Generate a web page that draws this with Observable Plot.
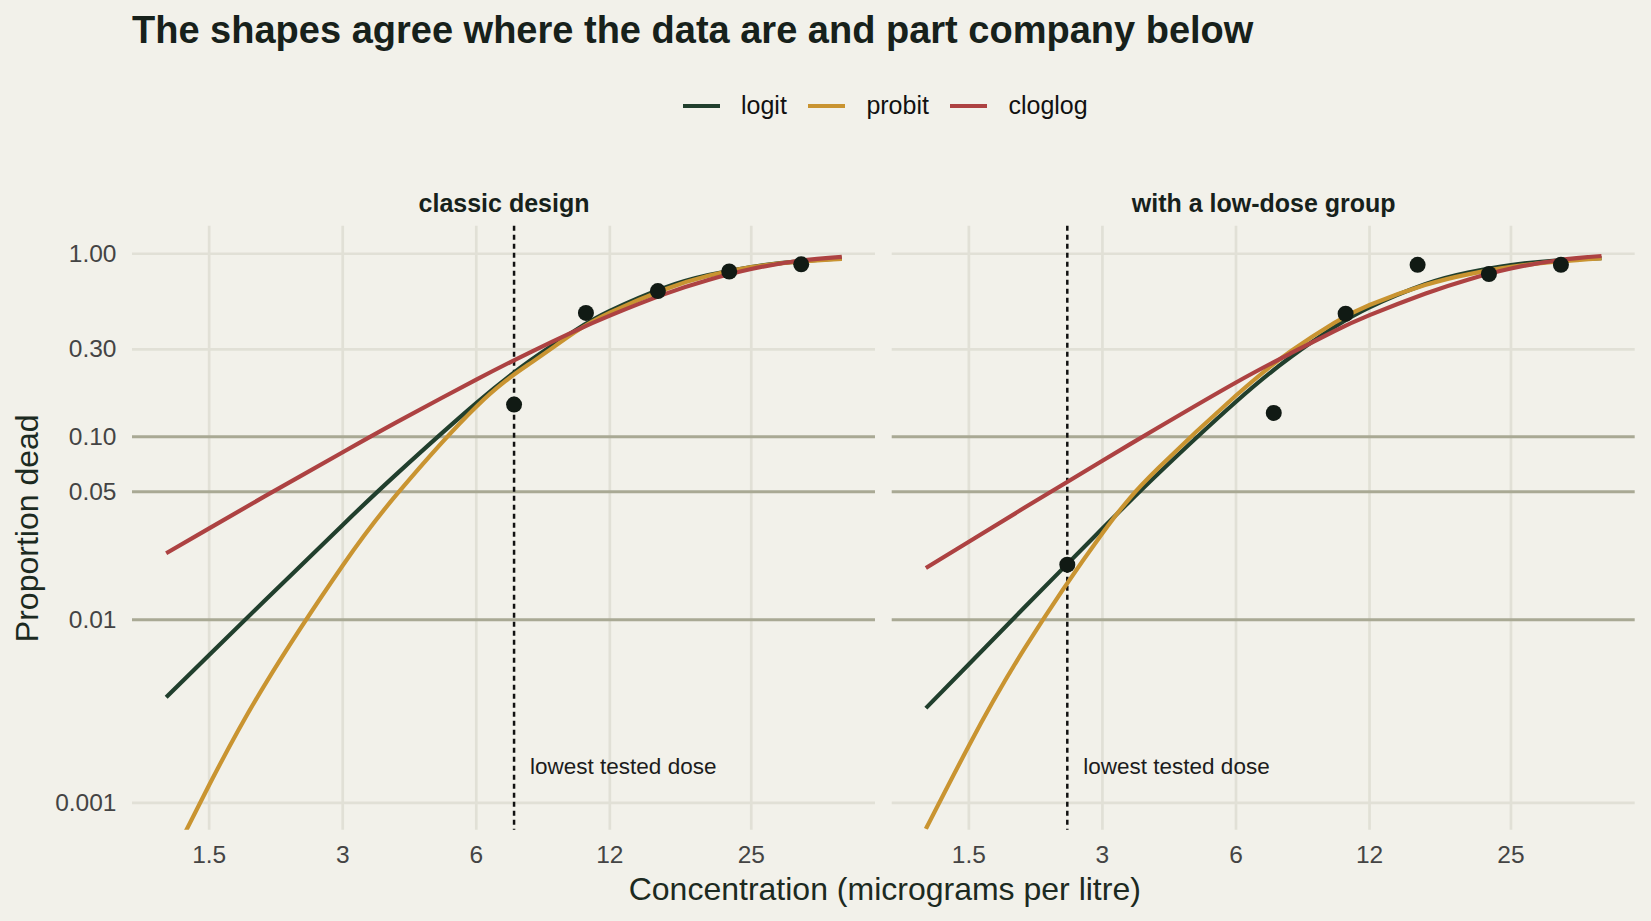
<!DOCTYPE html>
<html>
<head>
<meta charset="utf-8">
<script src="https://cdn.jsdelivr.net/npm/d3@7"></script>
<script src="https://cdn.jsdelivr.net/npm/@observablehq/plot@0.6"></script>
<style>
  html, body { margin: 0; padding: 0; background: #f2f1ea; }
  body { width: 1651px; height: 921px; position: relative; overflow: hidden;
         font-family: "Liberation Sans", Arial, Helvetica, sans-serif; }
  #title { position: absolute; left: 132px; top: 11px; font-size: 38px; line-height: 38px;
           font-weight: bold; color: #17211b; white-space: nowrap; }
  #legend { position: absolute; left: 683px; top: 93px; display: flex; align-items: center; }
  .leg-item { display: flex; align-items: center; margin-right: 21.5px; }
  .leg-line { width: 37px; height: 4px; margin-right: 21px; }
  .leg-text { font-size: 25px; line-height: 25px; color: #111; }
  #chart { position: absolute; left: 0; top: 150px; }
</style>
</head>
<body>
<div id="title">The shapes agree where the data are and part company below</div>
<div id="legend"></div>
<div id="chart"></div>
<script>
// ---- data ----
const panels = ["classic design", "with a low-dose group"];
const models = ["logit", "probit", "cloglog"];
const modelColors = ["#213f2d", "#c99431", "#ad4242"];

const concentrations = [1.2, 1.5, 2, 3, 4, 6, 8, 10, 12, 16, 20, 25, 32, 40];

const classicLogit   = [0.00377, 0.00643, 0.0127, 0.033, 0.0637, 0.1527, 0.2645, 0.38, 0.487, 0.654, 0.764, 0.847, 0.909, 0.942];
const classicProbit  = [0.00043, 0.00125, 0.0044, 0.0198, 0.0495, 0.146, 0.255, 0.372, 0.477, 0.64, 0.758, 0.845, 0.905, 0.938];
const classicCloglog = [0.0231, 0.0316, 0.0472, 0.0823, 0.1213, 0.2052, 0.2923, 0.378, 0.459, 0.6035, 0.719, 0.825, 0.916, 0.962];

const lowLogit   = [0.00329, 0.00572, 0.01167, 0.0315, 0.0626, 0.1554, 0.2743, 0.3975, 0.51, 0.681, 0.789, 0.867, 0.921, 0.947];
const lowProbit  = [0.00072, 0.00205, 0.00693, 0.0297, 0.067, 0.168, 0.295, 0.42, 0.525, 0.674, 0.772, 0.848, 0.908, 0.944];
const lowCloglog = [0.0192, 0.0267, 0.0409, 0.074, 0.112, 0.198, 0.287, 0.378, 0.462, 0.605, 0.722, 0.83, 0.922, 0.972];

const classicDoses = [7.3, 10.6, 15.4, 22.3, 32.4];
const classicDead  = [0.15, 0.475, 0.625, 0.8, 0.875];
const lowDoses = [2.5, 7.3, 10.6, 15.4, 22.3, 32.4];
const lowDead  = [0.02, 0.135, 0.47, 0.87, 0.775, 0.87];

const xTicks = [1.5, 3, 6, 12, 25];
const yTicks = [1, 0.3, 0.1, 0.05, 0.01, 0.001];
const yTickLabels = ["1.00", "0.30", "0.10", "0.05", "0.01", "0.001"];
const gridLevels = [1, 0.3, 0.001];
const refLevels = [0.1, 0.05, 0.01];

const xTitle = "Concentration (micrograms per litre)";
const yTitle = "Proportion dead";
const annotation = "lowest tested dose";

// ---- tables built from the arrays ----
const curveSets = [[classicLogit, classicProbit, classicCloglog], [lowLogit, lowProbit, lowCloglog]];
const curves = [];
panels.forEach((panel, i) => {
  models.forEach((model, j) => {
    concentrations.forEach((c, k) => curves.push({panel, model, c, p: curveSets[i][j][k]}));
  });
});
const points = [
  ...classicDoses.map((c, i) => ({panel: panels[0], c, p: classicDead[i]})),
  ...lowDoses.map((c, i) => ({panel: panels[1], c, p: lowDead[i]}))
];
const lowest = [
  {panel: panels[0], c: classicDoses[0]},
  {panel: panels[1], c: lowDoses[0]}
];
const yLabelMap = new Map(yTicks.map((t, i) => [t, yTickLabels[i]]));

// ---- legend ----
const legend = document.getElementById("legend");
models.forEach((m, i) => {
  const item = document.createElement("div");
  item.className = "leg-item";
  const line = document.createElement("div");
  line.className = "leg-line";
  line.style.background = modelColors[i];
  const txt = document.createElement("span");
  txt.className = "leg-text";
  txt.textContent = m;
  item.appendChild(line);
  item.appendChild(txt);
  legend.appendChild(item);
});

// ---- chart ----
const font = "'Liberation Sans', Arial, Helvetica, sans-serif";
const chart = Plot.plot({
  width: 1651,
  height: 770,
  marginLeft: 132,
  marginRight: 16.3,
  marginTop: 75.8,
  marginBottom: 90.25,
  style: {background: "transparent", fontFamily: font, overflow: "visible"},
  fx: {domain: panels, axis: null, paddingInner: 0.022, paddingOuter: 0, round: false},
  x: {type: "log", domain: [1.0076, 47.64], axis: null},
  y: {type: "log", domain: [Math.pow(10, -3.15), Math.pow(10, 0.15)], axis: null},
  color: {domain: models, range: modelColors},
  marks: [
    Plot.ruleX(xTicks, {stroke: "#e1e0d6", strokeWidth: 2.7}),
    Plot.ruleY(gridLevels, {stroke: "#e1e0d6", strokeWidth: 2.7}),
    Plot.ruleY(refLevels, {stroke: "#a9a994", strokeWidth: 3}),
    Plot.ruleX(lowest, {x: "c", fx: "panel", stroke: "#111", strokeWidth: 2.5, strokeDasharray: "5,4"}),
    ...models.map(m => Plot.line(curves, {
      filter: d => d.model === m,
      x: "c", y: "p", fx: "panel", stroke: "model",
      strokeWidth: 4.2, strokeLinecap: "butt", curve: "natural", clip: true
    })),
    Plot.dot(points, {x: "c", y: "p", fx: "panel", r: 8, fill: "#111a14"}),
    Plot.text(lowest, {
      x: "c", fx: "panel", text: () => annotation, frameAnchor: "bottom",
      dx: 16, dy: -56.45, textAnchor: "start", lineAnchor: "bottom",
      fontSize: 22.5, fill: "#1c1c1c"
    }),
    Plot.axisX(xTicks, {
      tickFormat: d => String(d), tickSize: 0, tickPadding: 15,
      fontSize: 24.5, color: "#444", label: null
    }),
    Plot.axisY(yTicks, {
      tickFormat: d => yLabelMap.get(d), tickSize: 0, tickPadding: 16,
      fontSize: 24.5, color: "#444", label: null
    }),
    Plot.text(panels, {
      fx: d => d, text: d => d, frameAnchor: "top", dy: -14.1, lineAnchor: "bottom",
      fontSize: 25, fontWeight: "bold", fill: "#17211b"
    }),
    Plot.text([yTitle], {
      fx: () => panels[0], text: d => d, frameAnchor: "left", dx: -117,
      rotate: -90, lineAnchor: "top", textAnchor: "middle", fontSize: 32, fill: "#1c2a21"
    }),
    Plot.text([xTitle], {
      fx: () => panels[0], text: d => d, frameAnchor: "bottom", dx: 380.8, dy: 47,
      lineAnchor: "top", textAnchor: "middle", fontSize: 32, fill: "#1c2a21"
    })
  ]
});
document.getElementById("chart").appendChild(chart);
</script>
</body>
</html>
